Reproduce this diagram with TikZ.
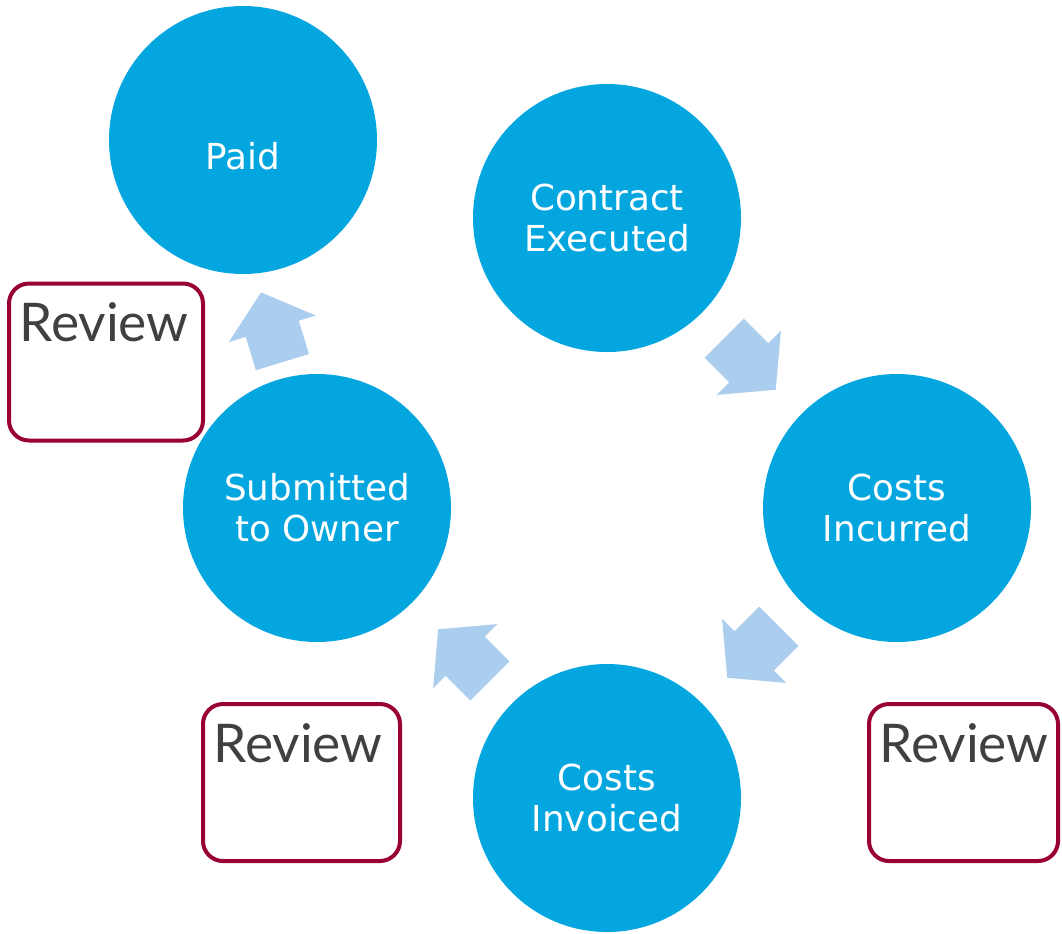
\documentclass[tikz,border=0pt]{standalone}
\usepackage{fontspec}
\setmainfont{DejaVu Sans}
\newfontfamily\revfont{Lato}
\usepackage{tikz}
\usetikzlibrary{shapes.arrows,calc}
\definecolor{qqaaee}{rgb}{0.016,0.651,0.878}
\definecolor{aaccee}{rgb}{0.671,0.808,0.933}
\definecolor{rrqqtt}{rgb}{0.6,0.,0.2}
\definecolor{sqsqsq}{rgb}{0.25,0.25,0.25}

\begin{document}
\begin{tikzpicture}[line cap=round,line join=round,x=0.75pt,y=-0.75pt,
  stage/.style={circle,fill=qqaaee,minimum size=201pt,inner sep=0pt},
  stagetext/.style={text=white,align=center,inner sep=0pt,font=\fontsize{26.8}{30.75}\selectfont},
  flow/.style={single arrow,fill=aaccee,inner xsep=0pt,inner ysep=20.6pt,minimum height=54.75pt,single arrow head extend=13.3pt,single arrow tip angle=100,anchor=tip},
  revbox/.style={draw=rrqqtt,line width=3pt,rounded corners=15pt,minimum height=117.75pt},
  revtext/.style={anchor=base west,text=sqsqsq,inner sep=0pt,font=\revfont\fontsize{40}{48}\selectfont}]
\useasboundingbox (0,0) rectangle (1062,933);
% stages
\node [stage] (paid) at (243,140) {};
\node [stage] (contract) at (607,218) {};
\node [stage] (incurred) at (897,508) {};
\node [stage] (invoiced) at (607,798) {};
\node [stage] (submitted) at (317,508) {};
\node [stagetext] (paidlbl) at ($(paid.center)+(0,16)$) {Paid};
\node [stagetext] (contractlbl) at (contract.center) {Contract\\Executed};
\node [stagetext] (incurredlbl) at (incurred.center) {Costs\\Incurred};
\node [stagetext] (invoicedlbl) at (invoiced.center) {Costs\\Invoiced};
\node [stagetext] (submittedlbl) at (submitted.center) {Submitted\\to Owner};
% block arrows, placed by their tips
\node [flow,rotate=-45] (a1) at ($(contract)!0.5!(incurred)+(24,27)$) {};
\node [flow,rotate=-135] (a2) at ($(incurred)!0.5!(invoiced)+(-25,25)$) {};
\node [flow,rotate=135] (a3) at ($(invoiced)!0.5!(submitted)+(-24,-24)$) {};
\node [flow,rotate=107] (a4) at ($(submitted)!0.5!(paid)+(-19,-32)$) {};
% review boxes
\node [revbox,minimum width=145.5pt] (rev1) at (106,362) {};
\node [revbox,minimum width=147.75pt] (rev2) at (301.5,782.5) {};
\node [revbox,minimum width=141.75pt] (rev3) at (963.5,782.5) {};
\node [revtext] (rev1lbl) at ($(rev1.north west)+(12,60)$) {Review};
\node [revtext] (rev2lbl) at ($(rev2.north west)+(12,60)$) {Review};
\node [revtext] (rev3lbl) at ($(rev3.north west)+(12,60)$) {Review};
\end{tikzpicture}
\end{document}
